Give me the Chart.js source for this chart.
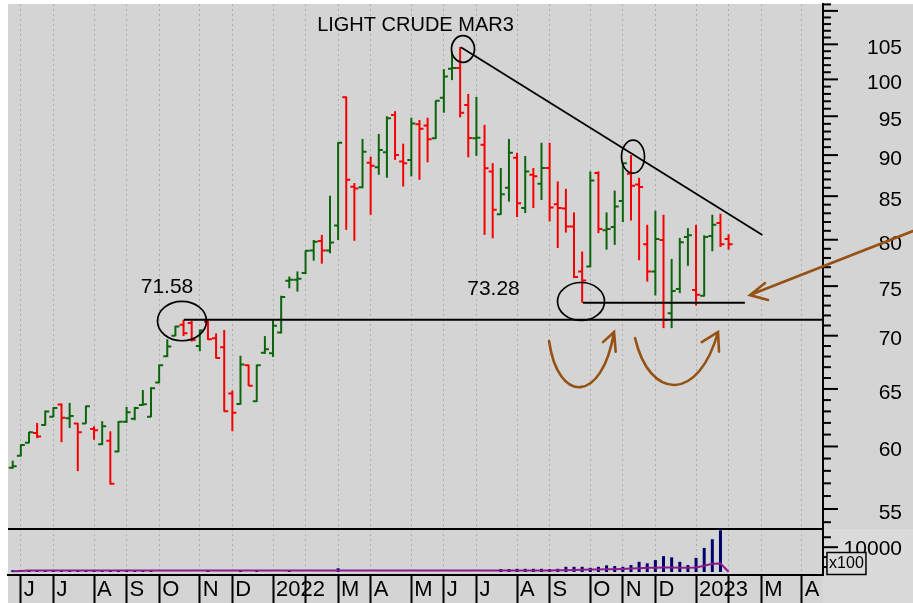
<!DOCTYPE html>
<html>
<head>
<meta charset="utf-8">
<title>Light Crude Mar3</title>
<script src="https://cdn.jsdelivr.net/npm/chart.js@4/dist/chart.umd.min.js"></script>
<style>
  html, body { margin: 0; padding: 0; background: #fff; }
  #wrap { width: 913px; height: 603px; }
</style>
</head>
<body>
<div id="wrap"><canvas id="chart" width="913" height="603"></canvas></div>
<script>
// weekly bars, index 0 = week ending 28 May 2021, last = 3 Feb 2023
const opens = [
  58.25, 59.23, 60.32, 61.13, 61.83, 62.53, 63.60, 62.41, 61.95, 61.95,
  61.48, 60.18, 60.47, 59.58, 62.10, 62.36, 63.57, 62.53, 65.58, 68.02,
  69.99, 71.07, 71.25, 69.00, 71.40, 69.75, 68.88, 64.60, 63.66, 67.18,
  63.90, 68.35, 68.30, 70.32, 75.55, 75.66, 76.38, 78.81, 79.86, 78.81,
  81.60, 97.55, 86.11, 86.07, 89.04, 88.50, 90.37, 95.15, 89.20, 89.40,
  93.95, 93.78, 92.12, 97.46, 101.50, 101.60, 96.50, 92.12, 91.32, 87.98,
  82.90, 86.00, 89.68, 83.60, 87.57, 86.48, 88.39, 84.06, 83.54, 81.49,
  76.55, 77.08, 87.78, 81.07, 81.42, 84.44, 87.70, 86.40, 79.50, 76.55,
  79.97, 72.22, 74.70, 80.30, 74.60, 74.00, 80.43, 81.88, 80.07
];
const highs = [
  58.83, 60.18, 61.23, 62.00, 63.08, 63.37, 63.69, 63.75, 62.00, 63.51,
  61.71, 62.15, 61.28, 62.15, 63.40, 63.40, 64.90, 65.15, 67.24, 69.65,
  70.97, 71.58, 71.45, 70.60, 71.50, 70.22, 70.56, 64.85, 68.07, 67.24,
  67.24, 69.96, 71.60, 74.00, 76.01, 76.55, 78.81, 79.97, 80.54, 85.05,
  91.63, 97.65, 86.56, 92.05, 89.80, 92.68, 95.00, 95.67, 91.44, 94.80,
  94.50, 94.80, 97.10, 101.44, 103.71, 104.60, 98.00, 97.60, 93.87, 89.00,
  88.39, 92.05, 90.30, 89.89, 88.39, 91.56, 91.56, 86.76, 85.87, 83.10,
  78.70, 87.98, 87.98, 83.10, 85.66, 89.08, 90.00, 87.20, 81.68, 83.30,
  82.83, 77.89, 80.20, 81.30, 81.68, 80.50, 82.83, 82.95, 80.62
];
const lows = [
  58.17, 59.18, 60.27, 60.70, 61.77, 62.50, 60.36, 61.57, 57.98, 61.93,
  60.56, 60.12, 56.91, 59.53, 62.00, 62.23, 63.51, 62.50, 65.53, 67.96,
  69.96, 69.96, 69.43, 68.50, 69.59, 67.80, 62.97, 61.28, 63.60, 65.27,
  63.84, 68.25, 67.96, 70.22, 74.78, 74.43, 76.27, 77.70, 77.38, 78.50,
  79.97, 81.11, 79.88, 85.95, 82.83, 87.57, 87.20, 89.40, 86.15, 87.37,
  86.96, 89.10, 92.05, 95.47, 99.90, 94.86, 89.73, 89.90, 80.54, 80.16,
  82.83, 84.36, 82.57, 83.03, 83.60, 84.55, 82.06, 79.08, 80.80, 75.84,
  73.28, 77.00, 80.74, 78.90, 79.43, 81.99, 82.17, 77.75, 75.47, 74.03,
  70.74, 70.74, 74.27, 77.15, 73.00, 73.93, 78.73, 79.20, 78.90
];
const closes = [
  58.38, 60.12, 61.20, 60.84, 62.99, 63.31, 62.44, 62.59, 61.20, 63.45,
  61.37, 61.71, 56.96, 62.10, 62.92, 63.31, 63.62, 65.06, 67.18, 68.96,
  70.90, 70.23, 69.59, 70.50, 69.66, 67.87, 63.02, 62.88, 67.24, 65.30,
  67.18, 68.70, 70.97, 73.87, 75.66, 75.77, 78.78, 79.78, 78.81, 79.70,
  91.56, 86.96, 85.90, 90.41, 88.67, 90.63, 94.75, 90.00, 89.00, 94.06,
  93.35, 92.00, 97.06, 100.39, 101.60, 95.47, 92.17, 92.20, 88.38, 83.40,
  85.22, 90.30, 84.17, 87.98, 87.39, 88.39, 83.67, 83.60, 81.49, 75.95,
  75.58, 86.88, 81.20, 81.20, 83.79, 89.00, 86.24, 86.10, 76.55, 80.07,
  71.57, 74.50, 79.72, 80.50, 74.10, 80.30, 81.68, 79.50, 79.50
];
// volume in hundreds
const volumes = [
  700, 600, 700, 700, 600, 700, 700, 700, 600, 700,
  700, 700, 700, 600, 700, 700, 700, 600, 0, 0,
  0, 0, 0, 0, 400, 0, 0, 0, 400, 0,
  400, 0, 0, 0, 400, 0, 0, 0, 0, 0,
  1500, 0, 0, 0, 0, 0, 0, 0, 0, 0,
  0, 0, 0, 0, 0, 0, 0, 0, 0, 0,
  1200, 1200, 1300, 1300, 1300, 1300, 1200, 1300, 2100, 2100,
  2100, 1700, 2100, 2700, 2400, 2100, 2800, 4100, 3500, 4800,
  6400, 5900, 4100, 2800, 5700, 9700, 13200, 16800, 0
];
const volAvg = [
  300, 450, 600, 600, 600, 600, 600, 600, 600, 600,
  600, 600, 600, 600, 600, 600, 600, 600, 600, 600,
  600, 600, 600, 600, 600, 600, 600, 600, 600, 600,
  600, 600, 600, 600, 600, 600, 600, 600, 600, 600,
  600, 600, 600, 600, 600, 600, 600, 600, 600, 600,
  600, 600, 600, 600, 600, 600, 600, 600, 600, 600,
  600, 600, 600, 600, 600, 600, 650, 700, 750, 800,
  900, 1000, 1050, 1100, 1150, 1250, 1400, 1550, 1700, 1750,
  1800, 1800, 1750, 1750, 1800, 2500, 3300, 3450, 100
];

// first bar of each month and its axis label
const monthStart = [1, 5, 10, 14, 18, 23, 27, 32, 36, 40, 44, 49, 53, 57, 62, 66, 71, 75, 79, 84, 88, 92, 97];
const monthLabels = ['J', 'J', 'A', 'S', 'O', 'N', 'D', '2022', '', 'M', 'A', 'M', 'J', 'J', 'A', 'S', 'O', 'N', 'D', '2023', '', 'M', 'A'];

const priceLabels = [55, 60, 65, 70, 75, 80, 85, 90, 95, 100, 105];
const volLabels = [10000];

// drawn notes, in bar index / price units
const notes = {
  support: { level: 71.58, from: 21.05 },
  base: { level: 73.28, from: 70.1, to: 90.0 },
  trend: [[55.1, 104.56], [92.15, 80.53]],
  rings: [
    { i: 20.81, p: 71.44, rx: 24.5, ry: 19.7 },
    { i: 55.35, p: 104.32, rx: 11.5, ry: 13.3 },
    { i: 76.25, p: 89.8, rx: 11.5, ry: 16.5 },
    { i: 69.86, p: 73.41, rx: 23.5, ry: 19 }
  ],
  texts: [
    { t: '71.58', i: 18.97, p: 74.28 },
    { t: '73.28', i: 59.1, p: 74.07 }
  ],
  arrow: [[110.67, 80.98], [90.63, 74.07], [92.48, 75.32], [92.85, 73.56]],
  curves: [
    [[65.93, 69.48], [67.03, 63.65], [72.44, 63.65], [73.92, 70.36], [72.56, 69.38], [74.12, 68.46]],
    [[76.5, 69.76], [78.34, 63.87], [84.36, 63.87], [86.7, 70.36], [84.7, 69.38], [86.82, 68.46]]
  ]
};

const FONT = '"Liberation Sans", Arial, sans-serif';
const GREEN = '#0c650c';
const RED = '#f50000';
const BROWN = '#965214';
const barColors = closes.map((c, i) => c >= opens[i] ? GREEN : RED);

const priceTicks = [];
for (let v = 54; v <= 111; v++) priceTicks.push(v);
const volTicks = [2000, 6000, 10000, 14000];

// keep the label half-heights from pushing the plot area in
const noPad = s => { s.paddingTop = 0; s.paddingBottom = 0; s.paddingLeft = 0; s.paddingRight = 0; };

const decor = {
  id: 'decor',
  beforeDraw(chart) {
    const { ctx, chartArea: ca, scales: { vol } } = chart;
    ctx.save();
    ctx.fillStyle = '#fff';
    ctx.fillRect(0, 0, chart.width, chart.height);
    ctx.fillStyle = '#d4d4d4';
    ctx.fillRect(ca.left, ca.top, chart.width - ca.left, chart.height - ca.top);
    ctx.fillStyle = '#dadada';
    ctx.fillRect(ca.right, vol.top, chart.width - ca.right, chart.height - vol.top);
    ctx.restore();
  },
  afterDatasetsDraw(chart) {
    const { ctx, chartArea: ca, scales: { x, y } } = chart;
    ctx.save();
    ctx.beginPath();
    ctx.rect(ca.left, ca.top, ca.width, ca.height);
    ctx.clip();
    ctx.lineWidth = 2;
    opens.forEach((o, i) => {
      const px = x.getPixelForValue(i);
      const po = y.getPixelForValue(o);
      const pc = y.getPixelForValue(closes[i]);
      ctx.strokeStyle = barColors[i];
      ctx.beginPath();
      ctx.moveTo(px - 4, po); ctx.lineTo(px, po);
      ctx.moveTo(px, pc); ctx.lineTo(px + 4, pc);
      ctx.stroke();
    });
    ctx.restore();
  },
  afterDraw(chart) {
    const { ctx, chartArea: ca, scales: { x, y, vol } } = chart;
    const P = (i, p) => [x.getPixelForValue(i), y.getPixelForValue(p)];
    ctx.save();

    // month labels, just right of each month tick
    ctx.fillStyle = '#000';
    ctx.font = '22px ' + FONT;
    ctx.textAlign = 'left';
    ctx.textBaseline = 'middle';
    monthStart.forEach((m, k) => {
      ctx.fillText(monthLabels[k], x.getPixelForValue(m) + 3, x.top + 15);
    });

    // axis tick marks
    ctx.strokeStyle = '#000';
    ctx.lineWidth = 2;
    priceTicks.forEach(v => {
      const py = y.getPixelForValue(v);
      const len = v % 5 === 0 ? 15 : 8;
      ctx.beginPath(); ctx.moveTo(y.left, py); ctx.lineTo(y.left + len, py); ctx.stroke();
    });
    volTicks.forEach(v => {
      const py = vol.getPixelForValue(v);
      const len = volLabels.includes(v) ? 15 : 8;
      ctx.beginPath(); ctx.moveTo(vol.left, py); ctx.lineTo(vol.left + len, py); ctx.stroke();
    });

    // panel separator
    ctx.beginPath(); ctx.moveTo(ca.left, vol.top); ctx.lineTo(ca.right, vol.top); ctx.stroke();

    // x100 box
    ctx.fillStyle = '#dadada';
    ctx.fillRect(ca.right + 4, vol.bottom - 22.5, 39, 22);
    ctx.lineWidth = 1.5;
    ctx.strokeRect(ca.right + 4, vol.bottom - 22.5, 39, 22);
    ctx.fillStyle = '#000';
    ctx.font = '16px ' + FONT;
    ctx.textAlign = 'center';
    ctx.fillText('x100', ca.right + 23.5, vol.bottom - 11);

    // title
    ctx.font = '20px ' + FONT;
    ctx.textBaseline = 'alphabetic';
    ctx.fillText('LIGHT CRUDE MAR3', (ca.left + ca.right) / 2, ca.top + 27);

    // support / base lines
    ctx.lineWidth = 2;
    let a = P(notes.support.from, notes.support.level);
    ctx.beginPath(); ctx.moveTo(a[0], a[1]); ctx.lineTo(ca.right, a[1]); ctx.stroke();
    a = P(notes.base.from, notes.base.level);
    let b = P(notes.base.to, notes.base.level);
    ctx.beginPath(); ctx.moveTo(a[0], a[1]); ctx.lineTo(b[0], b[1]); ctx.stroke();

    // trend line
    ctx.lineWidth = 1.8;
    a = P(...notes.trend[0]); b = P(...notes.trend[1]);
    ctx.beginPath(); ctx.moveTo(a[0], a[1]); ctx.lineTo(b[0], b[1]); ctx.stroke();

    // rings
    ctx.lineWidth = 1.7;
    notes.rings.forEach(r => {
      const c = P(r.i, r.p);
      ctx.beginPath(); ctx.ellipse(c[0], c[1], r.rx, r.ry, 0, 0, Math.PI * 2); ctx.stroke();
    });

    // level texts
    ctx.font = '21px ' + FONT;
    notes.texts.forEach(t => {
      const c = P(t.i, t.p);
      ctx.fillText(t.t, c[0], c[1]);
    });

    // brown arrows
    ctx.strokeStyle = BROWN;
    ctx.lineWidth = 2.6;
    ctx.lineCap = 'round';
    const ar = notes.arrow.map(q => P(...q));
    ctx.beginPath();
    ctx.moveTo(ar[0][0], ar[0][1]); ctx.lineTo(ar[1][0], ar[1][1]);
    ctx.moveTo(ar[2][0], ar[2][1]); ctx.lineTo(ar[1][0], ar[1][1]); ctx.lineTo(ar[3][0], ar[3][1]);
    ctx.stroke();
    notes.curves.forEach(cv => {
      const q = cv.map(k => P(...k));
      ctx.beginPath();
      ctx.moveTo(q[0][0], q[0][1]);
      ctx.bezierCurveTo(q[1][0], q[1][1], q[2][0], q[2][1], q[3][0], q[3][1]);
      ctx.moveTo(q[4][0], q[4][1]); ctx.lineTo(q[3][0], q[3][1]); ctx.lineTo(q[5][0], q[5][1]);
      ctx.stroke();
    });
    ctx.restore();
  }
};

Chart.defaults.font.family = FONT;

new Chart(document.getElementById('chart'), {
  type: 'bar',
  data: {
    datasets: [
      {
        type: 'line', label: 'average', yAxisID: 'vol', order: 0,
        data: volAvg.map((v, i) => ({ x: i, y: v })),
        borderColor: '#8c1c8c', borderWidth: 2, pointRadius: 0, tension: 0
      },
      {
        label: 'volume', yAxisID: 'vol', order: 1, grouped: false, maxBarThickness: 3,
        data: volumes.map((v, i) => ({ x: i, y: v })),
        backgroundColor: '#00006e'
      },
      {
        label: 'price', yAxisID: 'y', order: 2, grouped: false, maxBarThickness: 2,
        data: highs.map((h, i) => ({ x: i, y: [lows[i], h] })),
        backgroundColor: barColors
      }
    ]
  },
  options: {
    responsive: false,
    animation: false,
    events: [],
    layout: { padding: { left: 8, top: 4, right: 11, bottom: 0 } },
    plugins: { legend: { display: false }, tooltip: { enabled: false } },
    scales: {
      x: {
        type: 'linear', min: -0.578, max: 99.6, offset: false, bounds: 'data',
        afterBuildTicks: s => { s.ticks = monthStart.map(v => ({ value: v })); },
        afterFit: noPad,
        ticks: { display: false, autoSkip: false, maxRotation: 0 },
        grid: { offset: false, color: '#aeaeae', lineWidth: 1, tickLength: 28, tickColor: '#000', tickWidth: 2 },
        border: { display: true, color: '#000', width: 2, dash: [2, 3] }
      },
      y: {
        type: 'logarithmic', position: 'right', stack: 'right', stackWeight: 525,
        min: 53.49, max: 111.06, bounds: 'data', beginAtZero: false,
        afterBuildTicks: s => { s.ticks = priceTicks.map(v => ({ value: v })); },
        afterFit: noPad,
        ticks: {
          autoSkip: false, padding: 0, crossAlign: 'far', labelOffset: 4, color: '#000', font: { size: 21 },
          callback: v => priceLabels.includes(v) ? String(v) : null
        },
        grid: { drawOnChartArea: false, tickLength: 44, tickColor: 'rgba(0,0,0,0)' },
        border: { display: true, color: '#000', width: 2 }
      },
      vol: {
        type: 'linear', position: 'right', stack: 'right', stackWeight: 46,
        min: -1200, max: 17320, bounds: 'data', beginAtZero: false,
        afterBuildTicks: s => { s.ticks = volTicks.map(v => ({ value: v })); },
        afterFit: noPad,
        ticks: {
          autoSkip: false, padding: 0, crossAlign: 'far', labelOffset: 2, color: '#000', font: { size: 21 },
          callback: v => volLabels.includes(v) ? String(v) : null
        },
        grid: { drawOnChartArea: false, tickLength: 20.6, tickColor: 'rgba(0,0,0,0)' },
        border: { display: true, color: '#000', width: 2 }
      }
    }
  },
  plugins: [decor]
});
</script>
</body>
</html>
